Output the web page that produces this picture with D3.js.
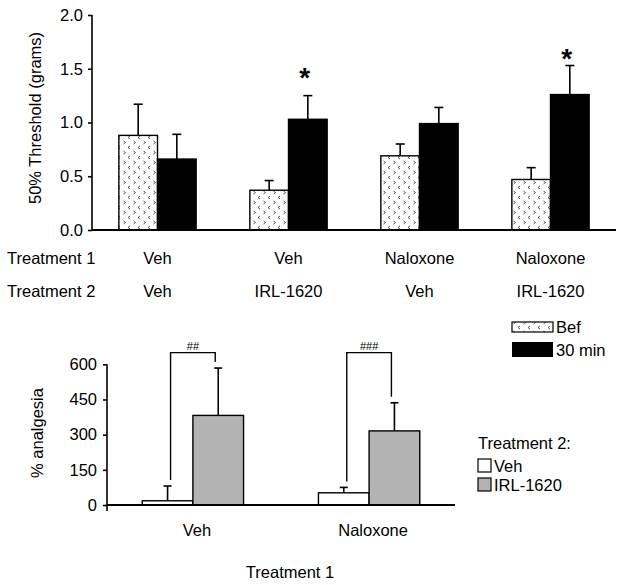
<!DOCTYPE html>
<html><head><meta charset="utf-8">
<script src="https://cdn.jsdelivr.net/npm/d3@7"></script>
<style>body{margin:0;background:#fff}svg{display:block;font-family:"Liberation Sans",Arial,sans-serif}</style>
</head><body>
<svg id="c" width="624" height="585"></svg>
<script>
// ---- Top panel data ----
const topGroups = ["g1","g2","g3","g4"];
const treatment1Top = ["Veh","Veh","Naloxone","Naloxone"];
const treatment2Top = ["Veh","IRL-1620","Veh","IRL-1620"];
const timeSeries = ["Bef","30 min"];
const befMean = [0.88, 0.37, 0.69, 0.47];
const befErr  = [0.29, 0.09, 0.11, 0.11];
const min30Mean = [0.66, 1.03, 0.99, 1.26];
const min30Err  = [0.23, 0.22, 0.15, 0.27];
const topStars = ["", "*", "", "*"];
const starLevel = [null, 1.47, null, 1.65];
const topTicks = [0, 0.5, 1.0, 1.5, 2.0];

// ---- Bottom panel data ----
const bottomGroups = ["Veh","Naloxone"];
const t2Series = ["Veh","IRL-1620"];
const vehMean = [18, 52];
const vehErr  = [63, 23];
const irlMean = [382, 316];
const irlErr  = [202, 120];
const bracketLabels = ["##","###"];
const bottomTicks = [0, 150, 300, 450, 600];

const svg = d3.select("#c");
const FS = 16.5;

// pattern
const defs = svg.append("defs");
const pat = defs.append("pattern").attr("id","dots").attr("patternUnits","userSpaceOnUse")
  .attr("width",10).attr("height",10).attr("x",1).attr("y",0);
pat.append("rect").attr("width",10).attr("height",10).attr("fill","#fff");
pat.append("path").attr("d","M2.5,1 L4.5,2.5 L2.5,4").attr("fill","none").attr("stroke","#444").attr("stroke-width",0.9);
pat.append("path").attr("d","M9,6 L7,7.5 L9,9").attr("fill","none").attr("stroke","#444").attr("stroke-width",0.9);

// ---------- TOP ----------
const xT = d3.scaleBand().domain(topGroups).range([92,616]).paddingInner(0.41).paddingOuter(0.205);
const xTs = d3.scaleBand().domain(timeSeries).range([0,xT.bandwidth()]);
const yT = d3.scaleLinear().domain([0,2]).range([230,15]);

const topG = svg.append("g");
const yAxT = topG.append("g").attr("transform","translate(92,0)")
  .call(d3.axisLeft(yT).tickValues(topTicks).tickFormat(d3.format(".1f")).tickSize(4).tickPadding(5));
yAxT.select(".domain").attr("stroke","#000").attr("stroke-width",1.6).attr("d","M0,"+yT(2)+"V"+yT(0));
yAxT.selectAll(".tick line").attr("stroke-width",1.6);
yAxT.selectAll("text").attr("font-size",FS).attr("font-family","Liberation Sans, Arial").attr("fill","#000");

const topSeries = [
  {name:"Bef", mean:befMean, err:befErr, fill:"url(#dots)"},
  {name:"30 min", mean:min30Mean, err:min30Err, fill:"#000"}
];
topSeries.forEach(s=>{
  topGroups.forEach((g,i)=>{
    const x0 = xT(g)+xTs(s.name), w = xTs.bandwidth(), cx = x0+w/2;
    topG.append("line").attr("x1",cx).attr("x2",cx).attr("y1",yT(s.mean[i])).attr("y2",yT(s.mean[i]+s.err[i]))
      .attr("stroke","#000").attr("stroke-width",1.6);
    topG.append("line").attr("x1",cx-4.5).attr("x2",cx+4.5).attr("y1",yT(s.mean[i]+s.err[i])).attr("y2",yT(s.mean[i]+s.err[i]))
      .attr("stroke","#000").attr("stroke-width",1.6);
    topG.append("rect").attr("x",x0).attr("y",yT(s.mean[i])).attr("width",w).attr("height",yT(0)-yT(s.mean[i]))
      .attr("fill",s.fill).attr("stroke","#000").attr("stroke-width",1.4);
    if (s.name==="30 min" && topStars[i]) {
      topG.append("text").attr("x",cx-3).attr("y",yT(starLevel[i])+15).attr("text-anchor","middle")
        .attr("font-size",28).attr("font-weight","bold").text(topStars[i]);
    }
  });
});
topG.append("line").attr("x1",92).attr("x2",616).attr("y1",yT(0)).attr("y2",yT(0)).attr("stroke","#000").attr("stroke-width",1.8);

topG.append("text").attr("transform","translate(41,118) rotate(-90)").attr("text-anchor","middle").attr("font-size",FS).text("50% Threshold (grams)");
topG.append("text").attr("x",7).attr("y",264).attr("font-size",FS).text("Treatment 1");
topG.append("text").attr("x",7).attr("y",297).attr("font-size",FS).text("Treatment 2");
topGroups.forEach((g,i)=>{
  const cx = xT(g)+xT.bandwidth()/2;
  topG.append("text").attr("x",cx).attr("y",264).attr("text-anchor","middle").attr("font-size",FS).text(treatment1Top[i]);
  topG.append("text").attr("x",cx).attr("y",297).attr("text-anchor","middle").attr("font-size",FS).text(treatment2Top[i]);
});

// top legend
const lg = svg.append("g");
lg.append("rect").attr("x",512).attr("y",322).attr("width",41).attr("height",10).attr("fill","url(#dots)").attr("stroke","#000").attr("stroke-width",1.2);
lg.append("text").attr("x",556).attr("y",333).attr("font-size",FS).text(timeSeries[0]);
lg.append("rect").attr("x",512).attr("y",342).attr("width",41).attr("height",15).attr("fill","#000");
lg.append("text").attr("x",556).attr("y",356).attr("font-size",FS).text(timeSeries[1]);

// ---------- BOTTOM ----------
const xB = d3.scaleBand().domain(bottomGroups).range([107,455]).paddingInner(0.425).paddingOuter(0.2);
const xBs = d3.scaleBand().domain(t2Series).range([0,xB.bandwidth()]);
const yB = d3.scaleLinear().domain([0,600]).range([505,364.3]);

const bot = svg.append("g");
const yAxB = bot.append("g").attr("transform","translate(107,0)")
  .call(d3.axisLeft(yB).tickValues(bottomTicks).tickSize(4).tickPadding(6));
yAxB.select(".domain").attr("stroke","#000").attr("stroke-width",1.6).attr("d","M0,"+yB(600)+"V"+(yB(0)+6));
yAxB.selectAll(".tick line").attr("stroke-width",1.6);
yAxB.selectAll("text").attr("font-size",FS).attr("font-family","Liberation Sans, Arial").attr("fill","#000");

const botSeries = [
  {name:"Veh", mean:vehMean, err:vehErr, fill:"#fff"},
  {name:"IRL-1620", mean:irlMean, err:irlErr, fill:"#b3b3b3"}
];
botSeries.forEach(s=>{
  bottomGroups.forEach((g,i)=>{
    const x0 = xB(g)+xBs(s.name), w = xBs.bandwidth(), cx = x0+w/2;
    bot.append("line").attr("x1",cx).attr("x2",cx).attr("y1",yB(s.mean[i])).attr("y2",yB(s.mean[i]+s.err[i]))
      .attr("stroke","#000").attr("stroke-width",1.6);
    bot.append("line").attr("x1",cx-4).attr("x2",cx+4).attr("y1",yB(s.mean[i]+s.err[i])).attr("y2",yB(s.mean[i]+s.err[i]))
      .attr("stroke","#000").attr("stroke-width",1.6);
    bot.append("rect").attr("x",x0).attr("y",yB(s.mean[i])).attr("width",w).attr("height",yB(0)-yB(s.mean[i]))
      .attr("fill",s.fill).attr("stroke","#000").attr("stroke-width",1.4);
  });
});
bot.append("line").attr("x1",107).attr("x2",455).attr("y1",yB(0)).attr("y2",yB(0)).attr("stroke","#000").attr("stroke-width",1.8);

// brackets
bottomGroups.forEach((g,i)=>{
  const xl = xB(g)+xBs("Veh")+xBs.bandwidth()/2+3;
  const xr = xB(g)+xBs("IRL-1620")+xBs.bandwidth()/2-3;
  const yl = yB(vehMean[i]+vehErr[i])-6;
  const yr = yB(irlMean[i]+irlErr[i])-6;
  const yt = yB(650);
  bot.append("path").attr("d",`M${xl},${yl}V${yt}H${xr}V${yr}`).attr("fill","none").attr("stroke","#000").attr("stroke-width",1.4);
  bot.append("text").attr("x",(xl+xr)/2).attr("y",yt-3).attr("text-anchor","middle").attr("font-size",11)
    .attr("font-family","Liberation Sans, Arial").text(bracketLabels[i]);
  bot.append("text").attr("x",xB(g)+xB.bandwidth()/2+4).attr("y",536).attr("text-anchor","middle").attr("font-size",FS).text(g);
});

bot.append("text").attr("transform","translate(43,433) rotate(-90)").attr("text-anchor","middle").attr("font-size",FS).text("% analgesia");
bot.append("text").attr("x",290).attr("y",578).attr("text-anchor","middle").attr("font-size",FS).text("Treatment 1");

// bottom legend
const lg2 = svg.append("g");
lg2.append("text").attr("x",478).attr("y",449).attr("font-size",FS).text("Treatment 2:");
botSeries.forEach((s,i)=>{
  const yy = 459 + i*19;
  lg2.append("rect").attr("x",478).attr("y",yy).attr("width",13).attr("height",13).attr("fill",s.fill).attr("stroke","#000").attr("stroke-width",1.2);
  lg2.append("text").attr("x",494).attr("y",yy+13).attr("font-size",FS).text(s.name);
});
</script>
</body></html>
